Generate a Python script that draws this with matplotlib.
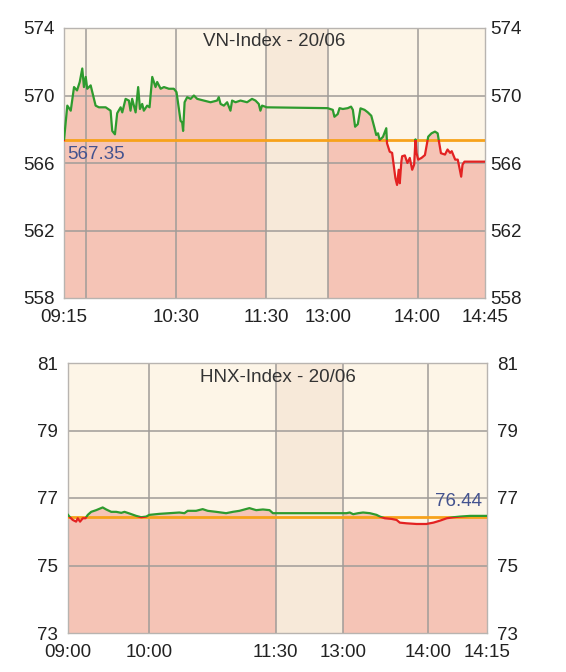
import numpy as np
import matplotlib
matplotlib.use("Agg")
import matplotlib.pyplot as plt
from matplotlib.patches import Rectangle

plt.rcParams['font.family'] = ['Liberation Sans', 'DejaVu Sans']

# ---------------- VN-Index data (clock minutes since 09:15 / 13:00) -------------
vn_title = "VN-Index - 20/06"
vn_ref = 567.35
vn_am_min = [0, 2.2, 4.5, 6.7, 8.7, 10.5, 12.2, 13.3, 14.5, 15.5, 17.8, 18.9, 21.1, 23.3,
             27.8, 31.1, 32.2, 34, 35.5, 37.8, 38.9, 41.1, 43.3, 44.4, 45.5, 47.8, 49.5,
             50.7, 52.2, 53.3, 55.5, 57.1, 58.9, 61.1, 62.2, 64.5, 66.7, 70, 73.3, 75.1,
             76.7, 77.8, 78.9, 79.5, 80.5, 82.2, 84.5, 86.7, 88.9, 93.3, 97.8, 102.2,
             103.3, 104.5, 106.7, 108.9, 111.1, 112.2, 114.5, 117.8, 122.2, 125.5, 127.8,
             130, 131.1, 132.2, 134.5, 135]
vn_am_val = [567.36, 569.4, 569.1, 570.5, 570.3, 570.8, 571.6, 570.5, 571.1, 570.4, 570.6,
             570.2, 569.4, 569.3, 569.3, 569.1, 567.9, 567.7, 568.95, 569.3, 569.0, 569.8,
             569.7, 569.1, 569.8, 569.0, 570.5, 569.2, 569.5, 569.1, 569.4, 569.3, 571.1,
             570.5, 570.8, 570.4, 570.5, 570.4, 570.4, 570.2, 569.2, 568.5, 568.4, 567.9,
             569.6, 569.9, 569.8, 570.0, 569.8, 569.7, 569.6, 569.7, 569.9, 569.5, 569.4,
             569.6, 569.1, 569.7, 569.6, 569.7, 569.6, 569.8, 569.7, 569.5, 569.1, 569.4,
             569.33, 569.3]
vn_pm_min = [0, 3.4, 4.5, 6.7, 7.9, 10.1, 13.4, 15.6, 16.8, 18.3, 20.1, 21.9, 24.6, 26.8,
             29.1, 31.3, 32.4, 33.6, 34.7, 36.9, 39.1, 39.6, 41.4, 43, 45.2, 46.3, 47.4,
             48.1, 49.2, 49.7, 51.5, 53.2, 54.8, 56.4, 57.7, 58.6, 59.3, 60.4, 62.6, 64.9,
             67.1, 69.3, 71.6, 73.4, 74.3, 75.6, 78.3, 80, 81.7, 82.8, 85.1, 86.8, 88,
             89.1, 90, 91.3, 105]
vn_pm_val = [569.25, 569.15, 568.74, 568.9, 569.25, 569.2, 569.25, 569.34, 569.15, 568.15,
             568.3, 569.24, 569.15, 569.0, 568.8, 568.06, 567.66, 567.76, 567.36, 567.55,
             568.06, 567.17, 566.67, 566.6, 565.1, 564.7, 565.6, 564.8, 566.1, 566.4,
             566.45, 566.0, 566.3, 565.6, 565.9, 567.4, 566.6, 566.2, 566.3, 566.47,
             567.56, 567.76, 567.86, 567.76, 567.26, 566.58, 566.5, 566.8, 566.6, 566.7,
             566.2, 566.2, 565.69, 565.19, 565.9, 566.08, 566.08]
vn_yticks = [558, 562, 566, 570, 574]
vn_xlabels = ["09:15", "10:30", "11:30", "13:00", "14:00", "14:45"]
vn_xlabel_min = [555, 630, 690, 780, 840, 885]
vn_xgrid_min = [570, 630, 690, 780, 840]

# ---------------- HNX-Index data -------------
hnx_title = "HNX-Index - 20/06"
hnx_ref = 76.44
hnx_am_min = [0, 1, 3.5, 6, 7.2, 8.9, 10.9, 12.9, 14.6, 17.1, 20.8, 25.6, 28.2, 31.9, 35.6,
              39.3, 41.7, 45.4, 50.3, 54, 57.7, 60, 67.1, 74.3, 81.4, 85, 87.3, 93.3, 98,
              101.6, 107.6, 114.7, 119.5, 124.2, 131.3, 136.1, 140.9, 145.6, 148, 150]
hnx_am_val = [76.50, 76.45, 76.35, 76.30, 76.40, 76.30, 76.40, 76.40, 76.50, 76.59, 76.64,
              76.72, 76.66, 76.59, 76.59, 76.56, 76.59, 76.54, 76.47, 76.43, 76.45, 76.50,
              76.53, 76.55, 76.57, 76.55, 76.62, 76.62, 76.67, 76.62, 76.59, 76.55, 76.59,
              76.62, 76.70, 76.64, 76.66, 76.64, 76.55, 76.55]
hnx_pm_min = [0, 2.6, 4.9, 7.3, 10.8, 14.3, 19.1, 23.8, 26.1, 29.6, 34.4, 37.9, 40.2, 44.9,
              52, 59, 60, 61.4, 63.1, 64.8, 66.5, 68.2, 70.7, 75]
hnx_pm_val = [76.55, 76.55, 76.57, 76.52, 76.55, 76.57, 76.55, 76.50, 76.45, 76.40, 76.38,
              76.35, 76.27, 76.25, 76.23, 76.23, 76.24, 76.27, 76.33, 76.40, 76.43, 76.45,
              76.47, 76.47]
hnx_yticks = [73, 75, 77, 79, 81]
hnx_xlabels = ["09:00", "10:00", "11:30", "13:00", "14:00", "14:15"]
hnx_xlabel_min = [540, 600, 690, 780, 840, 855]
hnx_xgrid_min = [600, 690, 780, 840]

# ---------------- styling -------------
BG = "#FDF5E7"
FILL = "#F5C4B6"
LUNCH = "#F7E9D9"
ORANGE = "#F7A21B"
GREEN = "#2E9B2E"
RED = "#E32222"
GRID = "#A09C98"
LABEL = "#44538F"
FS = 13.5

fig = plt.figure(figsize=(5.66, 6.72), dpi=100)
W, H = 566, 672


def panel(rect, title, ref, am_min, am_val, pm_min, pm_val, am_start, yticks,
          anchor_t, anchor_p, xlabels, xlabel_min, xgrid_min, lunch, ref_label_pos,
          rpad):
    l, t, r, b = rect
    ax = fig.add_axes([l / W, 1 - b / H, (r - l) / W, (b - t) / H])
    ax.set_facecolor(BG)
    tx = np.concatenate([am_start + np.asarray(am_min), 780 + np.asarray(pm_min)])
    y = np.concatenate([am_val, pm_val])
    x = np.interp(tx, anchor_t, anchor_p)
    x0, x1 = anchor_p[0], anchor_p[-1]
    ax.set_xlim(x0, x1)
    ax.set_ylim(yticks[0], yticks[-1])

    ax.fill_between(x, y, yticks[0], color=FILL, lw=0, zorder=1)
    lx0, lx1 = np.interp(lunch, anchor_t, anchor_p)
    ax.axvspan(lx0, lx1, color=LUNCH, lw=0, zorder=1.5)

    for yt in yticks[1:-1]:
        ax.axhline(yt, color=GRID, lw=1.1, zorder=2)
    for gm in xgrid_min:
        ax.axvline(np.interp(gm, anchor_t, anchor_p), color=GRID, lw=1.1, zorder=2)

    ax.axhline(ref, color=ORANGE, lw=2.0, zorder=3)

    lg, = ax.plot(x, y, color=GREEN, lw=1.6, zorder=4, solid_joinstyle='round')
    lr, = ax.plot(x, y, color=RED, lw=1.6, zorder=4, solid_joinstyle='round')
    up = Rectangle((x0, ref), x1 - x0, yticks[-1] - ref + 10, transform=ax.transData)
    dn = Rectangle((x0, yticks[0] - 10), x1 - x0, ref - yticks[0] + 10, transform=ax.transData)
    lg.set_clip_path(up)
    lr.set_clip_path(dn)

    ax.text(0.5, 1 - 14 / (b - t), title, transform=ax.transAxes, ha='center',
            va='center', fontsize=FS, color="#333333", zorder=6)

    ref_txt = f"{ref:.2f}"
    if ref_label_pos == 'below_left':
        ax.annotate(ref_txt, (x0, ref), xytext=(3, -6), textcoords='offset pixels',
                    ha='left', va='top', fontsize=FS, color=LABEL, zorder=6)
    else:
        ax.annotate(ref_txt, (x1, ref), xytext=(-5, 7), textcoords='offset pixels',
                    ha='right', va='bottom', fontsize=FS, color=LABEL, zorder=6)

    ax.set_yticks(yticks)
    ax.set_yticklabels([str(v) for v in yticks])
    ax.set_xticks(np.interp(xlabel_min, anchor_t, anchor_p))
    ax.set_xticklabels(xlabels)
    ax.tick_params(axis='y', length=0, labelleft=True, labelright=False, pad=7,
                   labelsize=FS, colors="#222222")
    ax.tick_params(axis='x', length=0, pad=8, labelsize=FS, colors="#222222")
    for s in ax.spines.values():
        s.set_color("#B8B4B0")
        s.set_linewidth(1.0)

    ax2 = ax.twinx()
    ax2.set_ylim(ax.get_ylim())
    ax2.set_yticks(yticks)
    ax2.set_yticklabels([str(v) for v in yticks])
    ax2.tick_params(axis='y', length=0, pad=rpad, labelsize=FS, colors="#222222")
    for s in ax2.spines.values():
        s.set_visible(False)
    return ax


panel((64, 28, 485, 298), vn_title, vn_ref, vn_am_min, vn_am_val, vn_pm_min, vn_pm_val,
      555, vn_yticks, [555, 690, 780, 885], [0, 135, 176, 281],
      vn_xlabels, vn_xlabel_min, vn_xgrid_min, [690, 780], 'below_left', 3.5)

panel((68, 363, 487, 633), hnx_title, hnx_ref, hnx_am_min, hnx_am_val, hnx_pm_min,
      hnx_pm_val, 540, hnx_yticks, [540, 600, 690, 780, 840, 855],
      [0, 81.2, 207.4, 274.4, 359.4, 418.4],
      hnx_xlabels, hnx_xlabel_min, hnx_xgrid_min, [690, 780], 'above_right', 7)

fig.savefig("out.png", dpi=100, facecolor="white")
